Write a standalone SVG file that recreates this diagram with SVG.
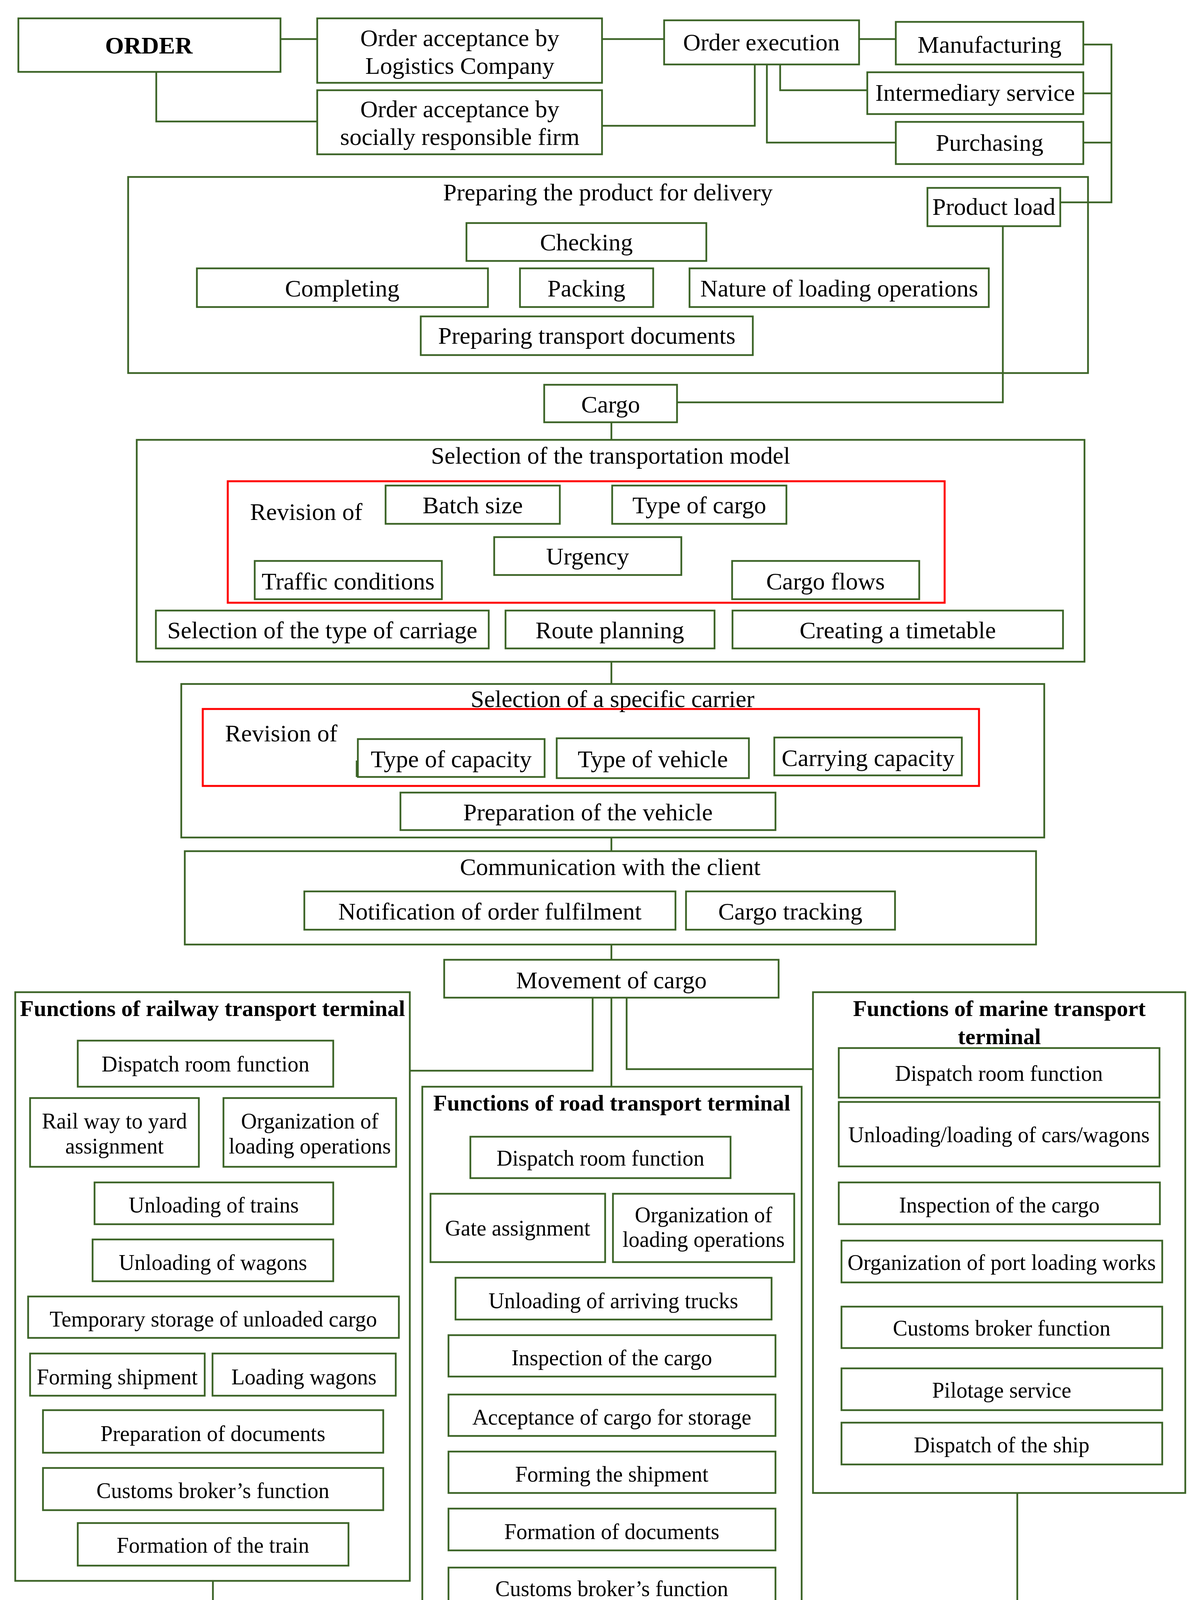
<svg xmlns="http://www.w3.org/2000/svg" width="3064" height="4512" viewBox="0 0 3064 4512">
<style>
.b{fill:#fff;stroke:#3c6427;stroke-width:4.5}
.f{fill:none;stroke:#3c6427;stroke-width:4.5}
.r{fill:none;stroke:#ff0000;stroke-width:5}
.c{fill:none;stroke:#3c6427;stroke-width:4.5}
text{font-family:"Liberation Serif","Times New Roman",serif;font-size:62px;text-anchor:middle;fill:#000}
.s{font-size:56px}
.h{font-weight:bold}
.h2{font-weight:bold;font-size:58px}
.l{text-anchor:start}
</style>
<rect x="0" y="0" width="3064" height="4512" fill="#fff"/>

<!-- containers -->
<g id="prep">
<rect class="b" x="328" y="453" width="2457" height="502"/>
<text x="1556" y="513">Preparing the product for delivery</text>
</g>
<g id="sel_model">
<rect class="b" x="350" y="1126" width="2426" height="568"/>
<text x="1563" y="1187">Selection of the transportation model</text>
</g>
<g id="sel_carrier">
<rect class="b" x="464" y="1751" width="2209" height="393"/>
<text x="1568" y="1810">Selection of a specific carrier</text>
</g>
<g id="communication">
<rect class="b" x="473" y="2179" width="2179" height="239"/>
<text x="1562" y="2240">Communication with the client</text>
</g>
<g id="rail">
<rect class="b" x="39" y="2540" width="1010" height="1507"/>
<text class="h2" x="544" y="2601">Functions of railway transport terminal</text>
</g>
<g id="road">
<rect class="b" x="1081" y="2782" width="971" height="1519"/>
<text class="h2" x="1566" y="2843">Functions of road transport terminal</text>
</g>
<g id="marine">
<rect class="b" x="2081" y="2540" width="953" height="1282"/>
<text class="h2" x="2558" y="2601">Functions of marine transport</text>
<text class="h2" x="2558" y="2673">terminal</text>
</g>

<!-- connectors -->
<g id="connectors">
<path class="c" d="M718,100H812"/>
<path class="c" d="M400,184V311H812"/>
<path class="c" d="M1541,100H1700"/>
<path class="c" d="M1932,165V322H1541"/>
<path class="c" d="M2199,100H2293"/>
<path class="c" d="M1997,165V231H2220"/>
<path class="c" d="M1963,165V365H2293"/>
<path class="c" d="M2773,114H2845V518H2714"/>
<path class="c" d="M2773,239H2845"/>
<path class="c" d="M2773,365H2845"/>
<path class="c" d="M2567,579V1030H1733"/>
<path class="c" d="M1565,1081V1126"/>
<path class="c" d="M1565,1694V1751"/>
<path class="c" d="M1565,2144V2179"/>
<path class="c" d="M1565,2418V2457"/>
<path class="c" d="M1517,2554V2741H1049"/>
<path class="c" d="M1565,2554V2782"/>
<path class="c" d="M1604,2554V2737H2081"/>
<path class="c" d="M545,4047V4413H1204"/>
<path class="c" d="M1565,4301V4345"/>
<path class="c" d="M2604,3822V4412H1872"/>
</g>

<!-- top nodes -->
<g id="order"><rect class="b" x="47" y="47" width="671" height="137"/><text class="h" x="381" y="137">ORDER</text></g>
<g id="accept_logistics"><rect class="b" x="812" y="47" width="729" height="165"/><text x="1177" y="118">Order acceptance by</text><text x="1177" y="189">Logistics Company</text></g>
<g id="accept_social"><rect class="b" x="812" y="231" width="729" height="164"/><text x="1177" y="300">Order acceptance by</text><text x="1177" y="371">socially responsible firm</text></g>
<g id="order_exec"><rect class="b" x="1700" y="52" width="499" height="113"/><text x="1949" y="129">Order execution</text></g>
<g id="manufacturing"><rect class="b" x="2293" y="56" width="480" height="109"/><text x="2533" y="135">Manufacturing</text></g>
<g id="intermediary"><rect class="b" x="2220" y="185" width="553" height="107"/><text x="2496" y="258">Intermediary service</text></g>
<g id="purchasing"><rect class="b" x="2293" y="312" width="480" height="108"/><text x="2533" y="386">Purchasing</text></g>
<g id="product_load"><rect class="b" x="2374" y="481" width="340" height="98"/><text x="2544" y="550">Product load</text></g>
<g id="checking"><rect class="b" x="1194" y="571" width="614" height="97"/><text x="1501" y="641">Checking</text></g>
<g id="completing"><rect class="b" x="504" y="687" width="745" height="99"/><text x="876" y="759">Completing</text></g>
<g id="packing"><rect class="b" x="1331" y="687" width="341" height="99"/><text x="1501" y="759">Packing</text></g>
<g id="nature"><rect class="b" x="1765" y="687" width="766" height="99"/><text x="2148" y="759">Nature of loading operations</text></g>
<g id="prep_docs"><rect class="b" x="1077" y="810" width="850" height="99"/><text x="1502" y="880">Preparing transport documents</text></g>
<g id="cargo"><rect class="b" x="1393" y="985" width="340" height="96"/><text x="1563" y="1056">Cargo</text></g>

<!-- transportation model -->
<g id="batch"><rect class="b" x="987" y="1243" width="446" height="98"/><text x="1210" y="1314">Batch size</text></g>
<g id="type_cargo"><rect class="b" x="1567" y="1243" width="446" height="98"/><text x="1790" y="1314">Type of cargo</text></g>
<g id="urgency"><rect class="b" x="1265" y="1375" width="479" height="97"/><text x="1504" y="1445">Urgency</text></g>
<g id="traffic"><rect class="b" x="652" y="1436" width="479" height="98"/><text x="891" y="1509">Traffic conditions</text></g>
<g id="cargo_flows"><rect class="b" x="1874" y="1436" width="479" height="98"/><text x="2113" y="1509">Cargo flows</text></g>
<g id="revision1"><rect class="r" x="583" y="1232" width="1835" height="311"/><text class="l" x="640" y="1331">Revision of</text></g>
<g id="sel_carriage"><rect class="b" x="399" y="1563" width="852" height="97"/><text x="825" y="1634">Selection of the type of carriage</text></g>
<g id="route"><rect class="b" x="1294" y="1563" width="535" height="97"/><text x="1561" y="1634">Route planning</text></g>
<g id="timetable"><rect class="b" x="1875" y="1563" width="846" height="97"/><text x="2298" y="1634">Creating a timetable</text></g>

<!-- carrier -->
<g id="type_capacity"><rect class="b" x="916" y="1892" width="478" height="97"/><path class="c" d="M913,1947V1989"/><text x="1155" y="1964">Type of capacity</text></g>
<g id="type_vehicle"><rect class="b" x="1425" y="1890" width="492" height="102"/><text x="1671" y="1964">Type of vehicle</text></g>
<g id="carrying"><rect class="b" x="1982" y="1888" width="480" height="97"/><text x="2222" y="1961">Carrying capacity</text></g>
<g id="revision2"><rect class="r" x="519" y="1815" width="1987" height="197"/><text class="l" x="576" y="1898">Revision of</text></g>
<g id="prep_vehicle"><rect class="b" x="1025" y="2029" width="960" height="96"/><text x="1505" y="2100">Preparation of the vehicle</text></g>

<!-- communication -->
<g id="notification"><rect class="b" x="779" y="2282" width="950" height="98"/><text x="1254" y="2354">Notification of order fulfilment</text></g>
<g id="cargo_tracking"><rect class="b" x="1756" y="2282" width="535" height="98"/><text x="2023" y="2354">Cargo tracking</text></g>
<g id="movement"><rect class="b" x="1137" y="2457" width="856" height="97"/><text x="1565" y="2530">Movement of cargo</text></g>

<!-- railway -->
<g id="rail_dispatch"><rect class="b" x="199" y="2664" width="654" height="118"/><text class="s" x="526" y="2743">Dispatch room function</text></g>
<g id="rail_yard"><rect class="b" x="77" y="2811" width="432" height="176"/><text class="s" x="293" y="2889">Rail way to yard</text><text class="s" x="293" y="2953">assignment</text></g>
<g id="rail_org"><rect class="b" x="572" y="2811" width="442" height="176"/><text class="s" x="793" y="2889">Organization of</text><text class="s" x="793" y="2953">loading operations</text></g>
<g id="rail_unl_trains"><rect class="b" x="242" y="3027" width="611" height="107"/><text class="s" x="547" y="3104">Unloading of trains</text></g>
<g id="rail_unl_wagons"><rect class="b" x="237" y="3173" width="616" height="107"/><text class="s" x="545" y="3251">Unloading of wagons</text></g>
<g id="rail_storage"><rect class="b" x="72" y="3319" width="949" height="106"/><text class="s" x="546" y="3396">Temporary storage of unloaded cargo</text></g>
<g id="rail_forming"><rect class="b" x="77" y="3465" width="447" height="108"/><text class="s" x="300" y="3544">Forming shipment</text></g>
<g id="rail_loading"><rect class="b" x="544" y="3465" width="469" height="108"/><text class="s" x="778" y="3544">Loading wagons</text></g>
<g id="rail_docs"><rect class="b" x="110" y="3610" width="871" height="109"/><text class="s" x="545" y="3689">Preparation of documents</text></g>
<g id="rail_customs"><rect class="b" x="110" y="3758" width="871" height="108"/><text class="s" x="545" y="3835">Customs broker’s function</text></g>
<g id="rail_train"><rect class="b" x="199" y="3899" width="693" height="109"/><text class="s" x="545" y="3975">Formation of the train</text></g>

<!-- road -->
<g id="road_dispatch"><rect class="b" x="1204" y="2910" width="666" height="106"/><text class="s" x="1537" y="2984">Dispatch room function</text></g>
<g id="road_gate"><rect class="b" x="1102" y="3056" width="447" height="175"/><text class="s" x="1325" y="3163">Gate assignment</text></g>
<g id="road_org"><rect class="b" x="1569" y="3056" width="464" height="175"/><text class="s" x="1801" y="3129">Organization of</text><text class="s" x="1801" y="3192">loading operations</text></g>
<g id="road_unl"><rect class="b" x="1166" y="3271" width="809" height="107"/><text class="s" x="1570" y="3349">Unloading of arriving trucks</text></g>
<g id="road_insp"><rect class="b" x="1148" y="3418" width="837" height="106"/><text class="s" x="1566" y="3495">Inspection of the cargo</text></g>
<g id="road_accept"><rect class="b" x="1148" y="3570" width="837" height="106"/><text class="s" x="1566" y="3647">Acceptance of cargo for storage</text></g>
<g id="road_forming"><rect class="b" x="1148" y="3716" width="837" height="106"/><text class="s" x="1566" y="3793">Forming the shipment</text></g>
<g id="road_docs"><rect class="b" x="1148" y="3862" width="837" height="107"/><text class="s" x="1566" y="3940">Formation of documents</text></g>
<g id="road_customs"><rect class="b" x="1148" y="4013" width="837" height="108"/><text class="s" x="1566" y="4086">Customs broker’s function</text></g>
<g id="road_shipment"><rect class="b" x="1148" y="4160" width="837" height="108"/><text class="s" x="1566" y="4234">Shipment of cargo</text></g>

<!-- marine -->
<g id="mar_dispatch"><rect class="b" x="2147" y="2683" width="821" height="127"/><text class="s" x="2557" y="2767">Dispatch room function</text></g>
<g id="mar_unl"><rect class="b" x="2147" y="2821" width="821" height="165"/><text class="s" x="2557" y="2924">Unloading/loading of cars/wagons</text></g>
<g id="mar_insp"><rect class="b" x="2147" y="3027" width="822" height="107"/><text class="s" x="2558" y="3104">Inspection of the cargo</text></g>
<g id="mar_org"><rect class="b" x="2154" y="3176" width="821" height="107"/><text class="s" x="2564" y="3251">Organization of port loading works</text></g>
<g id="mar_customs"><rect class="b" x="2154" y="3345" width="821" height="106"/><text class="s" x="2564" y="3419">Customs broker function</text></g>
<g id="mar_pilot"><rect class="b" x="2154" y="3503" width="821" height="107"/><text class="s" x="2564" y="3578">Pilotage service</text></g>
<g id="mar_ship"><rect class="b" x="2154" y="3642" width="821" height="107"/><text class="s" x="2564" y="3718">Dispatch of the ship</text></g>

<g id="recipient"><rect class="b" x="1204" y="4345" width="668" height="134"/><text class="h" x="1538" y="4433">RECIPIENT</text></g>
</svg>
